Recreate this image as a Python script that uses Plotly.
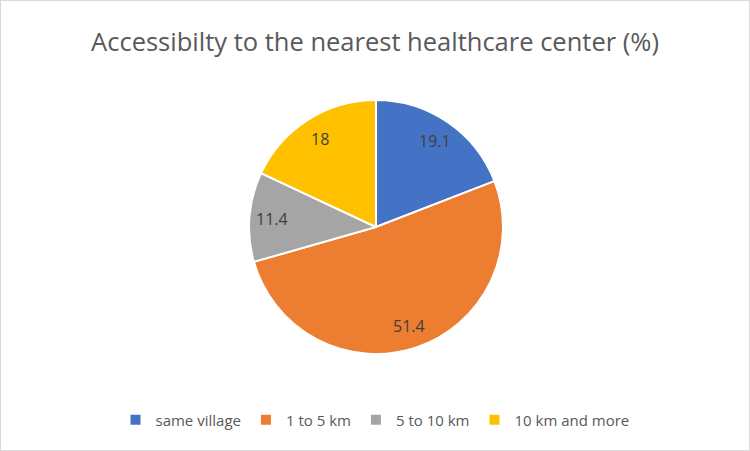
import math
import plotly.graph_objects as go

categories = ["same village", "1 to 5 km", "5 to 10 km", "10 km and more"]
values = [19.1, 51.4, 11.4, 18]
colors = ["#4472C4", "#ED7D31", "#A5A5A5", "#FFC000"]
title_text = "Accessibilty to the nearest healthcare center (%)"

W, H = 750, 451
cx, cy, r = 376, 227, 127
label_frac = 0.82

fig = go.Figure(go.Pie(
    labels=categories,
    values=values,
    sort=False,
    direction="clockwise",
    rotation=0,
    marker=dict(colors=colors, line=dict(color="white", width=2)),
    textinfo="none",
    domain=dict(x=[(cx - r) / W, (cx + r) / W], y=[(H - cy - r) / H, (H - cy + r) / H]),
    hoverinfo="label+value",
))

# data labels placed at slice mid-angles (Excel-like positions)
total = sum(values)
annotations = []
cum = 0.0
for v in values:
    mid = (cum + v / 2) / total * 2 * math.pi
    cum += v
    px = cx + label_frac * r * math.sin(mid)
    py = cy - label_frac * r * math.cos(mid)
    annotations.append(dict(
        x=px / W, y=(H - py) / H, xref="paper", yref="paper",
        text=f"{v:g}", showarrow=False, xanchor="center", yanchor="middle",
        font=dict(family="Open Sans, sans-serif", size=16, color="#404040"),
    ))

fig.update_layout(
    width=W, height=H,
    margin=dict(l=0, r=0, t=0, b=0),
    paper_bgcolor="white",
    plot_bgcolor="white",
    title=dict(text=title_text, x=0.5, xanchor="center", y=1 - 42 / H, yanchor="middle",
               font=dict(family="Open Sans, sans-serif", size=25.5, color="#595959")),
    legend=dict(orientation="h", x=0.5, xanchor="center", y=1 - 420 / H, yanchor="middle",
                font=dict(family="Open Sans, sans-serif", size=15, color="#595959"),
                itemwidth=30, traceorder="normal"),
    annotations=annotations,
    shapes=[dict(type="rect", xref="paper", yref="paper", x0=0, y0=0, x1=1, y1=1,
                 line=dict(color="#D9D9D9", width=2))],
)

fig.write_html("out.html")
